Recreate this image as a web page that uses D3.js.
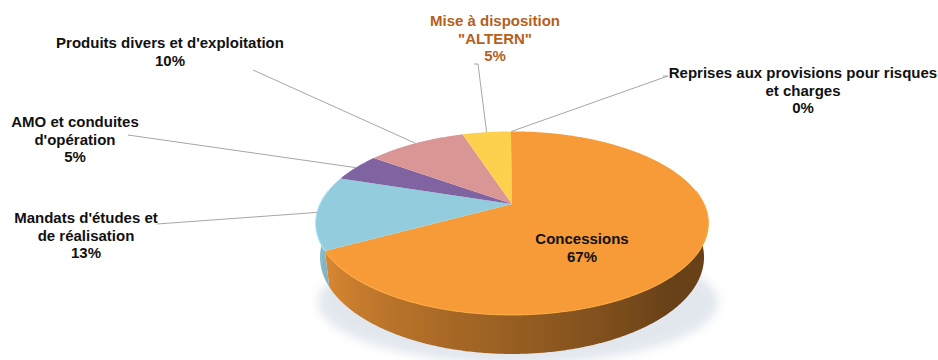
<!DOCTYPE html>
<html>
<head>
<meta charset="utf-8">
<script src="https://cdn.jsdelivr.net/npm/d3@7"></script>
<style>
  body { margin: 0; background: #fff; }
  text { font-family: "Liberation Sans", Arial, sans-serif; font-weight: bold; font-size: 15px; }
</style>
</head>
<body>
<div id="chart"></div>
<script>
// data
const categories = ["Concessions", "Mandats d'études et de réalisation", "AMO et conduites d'opération",
  "Produits divers et d'exploitation", "Mise à disposition \"ALTERN\"", "Reprises aux provisions pour risques et charges"];
const values = [67, 13, 5, 10, 4.9, 0.1];
const percentLabels = ["67%", "13%", "5%", "10%", "5%", "0%"];
const labelLines = [
  ["Concessions"],
  ["Mandats d'études et", "de réalisation"],
  ["AMO et conduites", "d'opération"],
  ["Produits divers et d'exploitation"],
  ["Mise à disposition", "\"ALTERN\""],
  ["Reprises aux provisions pour risques", "et charges"]
];
const colors = ["#f79a38", "#93cddd", "#8064a2", "#d99694", "#fdd04e", "#a5a5a5"];

// layout of the labels (centre x, first baseline y) and leader starts
const labelPos = [
  {x: 582, y: 244, color: "#111"},
  {x: 86, y: 223, color: "#111", lead: [[157, 224]]},
  {x: 75, y: 127, color: "#111", lead: [[128, 135]]},
  {x: 170, y: 48, color: "#111", lead: [[253, 70]]},
  {x: 495, y: 26, color: "#b5601d", lead: [[474, 64], [478, 64]]},
  {x: 803, y: 78, color: "#111", lead: [[663, 76], [668, 76]]}
];

var width = 938, height = 360;
var cx = 512, cy = 204, S = 192;
var sinT = 0.457, cosT = 0.889, D = 4.26, H = 0.2;

// perspective projection of a point on the tilted disc
function proj(theta, r, y) {
  var X = r * Math.sin(theta), Z = r * Math.cos(theta);
  var v = Z * sinT + y * cosT;
  var w = Z * cosT - y * sinT;
  var f = 1 / (1 + w / D);
  return [cx + S * X * f, cy - S * v * f, w];
}

// side is lit from the left
function shade(deg) {
  return Math.max(0.42, Math.min(0.92, 0.42 + 0.0043 * (deg - 135)));
}

var svg = d3.select("#chart").append("svg")
  .attr("width", width).attr("height", height);

var defs = svg.append("defs");
defs.append("filter").attr("id", "blur").attr("x", "-20%").attr("y", "-50%")
  .attr("width", "140%").attr("height", "200%")
  .append("feGaussianBlur").attr("stdDeviation", 5);

// side gradients, one per colour
var x1 = proj(Math.PI * 1.5, 1, 0)[0], x2 = proj(Math.PI * 0.5, 1, 0)[0];
colors.forEach(function(c, i) {
  var g = defs.append("linearGradient").attr("id", "side" + i)
    .attr("gradientUnits", "userSpaceOnUse")
    .attr("x1", x1).attr("x2", x2).attr("y1", 0).attr("y2", 0);
  var base = d3.rgb(c);
  for (var deg = 270; deg >= 90; deg -= 5) {
    var x = proj(deg * Math.PI / 180, 1, -H / 2)[0];
    var s = shade(deg);
    g.append("stop")
      .attr("offset", Math.max(0, Math.min(1, (x - x1) / (x2 - x1))))
      .attr("stop-color", d3.rgb(base.r * s, base.g * s, base.b * s).formatHex());
  }
});

// soft shadow under the pie
svg.append("ellipse")
  .attr("cx", cx + 6).attr("cy", 302).attr("rx", 200).attr("ry", 62)
  .attr("fill", "#b9c5d6").attr("opacity", 0.4).attr("filter", "url(#blur)");

var pie = d3.pie().sort(null).value(d => d)(values);
var step = Math.PI / 360;

function arcPts(a, b, y) {
  var n = Math.max(2, Math.ceil((b - a) / step)), out = [];
  for (var k = 0; k <= n; k++) out.push(proj(a + (b - a) * k / n, 1, y));
  return out;
}

// side walls: only the front half can be seen
var lo = Math.PI * 0.45, hi = Math.PI * 1.55;
var sides = pie.map(function(p) {
  var a = Math.max(p.startAngle, lo), b = Math.min(p.endAngle, hi);
  return {index: p.index, a: a, b: b};
}).filter(d => d.b > d.a);

svg.append("g").selectAll("path.side")
  .data(sides).enter().append("path")
  .attr("class", "side")
  .attr("d", function(d) {
    var pts = arcPts(d.a, d.b, 0).concat(arcPts(d.a, d.b, -H).reverse());
    return "M" + pts.map(p => p[0] + "," + p[1]).join("L") + "Z";
  })
  .attr("fill", d => "url(#side" + d.index + ")");

// top faces
function topPath(p) {
  var c = proj(0, 0, 0);
  return "M" + c[0] + "," + c[1] + "L" +
    arcPts(p.startAngle, p.endAngle, 0).map(q => q[0] + "," + q[1]).join("L") + "Z";
}

svg.append("g").selectAll("path.top")
  .data(pie).enter().append("path")
  .attr("class", "top")
  .attr("d", topPath)
  .attr("fill", (d, i) => colors[i]);

// light bevel along the front rim
svg.append("g").selectAll("path.rim")
  .data(sides).enter().append("path")
  .attr("d", d => "M" + arcPts(d.a, d.b, 0).map(p => p[0] + "," + p[1]).join("L"))
  .attr("fill", "none")
  .attr("stroke", d => d3.rgb(colors[d.index]).brighter(0.35))
  .attr("stroke-width", 1.2).attr("opacity", 0.8);

// leader lines
svg.append("g").selectAll("path.lead")
  .data(pie.filter((d, i) => labelPos[i].lead))
  .enter().append("path")
  .attr("d", function(d) {
    var lp = labelPos[d.index].lead;
    var end = proj((d.startAngle + d.endAngle) / 2, 1, 0);
    return "M" + lp.map(p => p[0] + "," + p[1]).join("L") + "L" + end[0] + "," + end[1];
  })
  .attr("fill", "none").attr("stroke", "#a6a6a6").attr("stroke-width", 1);

// labels
var lab = svg.append("g").selectAll("text")
  .data(pie).enter().append("text")
  .attr("text-anchor", "middle")
  .attr("fill", d => labelPos[d.index].color);

lab.each(function(d) {
  var t = d3.select(this), pos = labelPos[d.index];
  var lines = labelLines[d.index].concat([percentLabels[d.index]]);
  lines.forEach(function(l, k) {
    t.append("tspan").attr("x", pos.x).attr("y", pos.y + k * 17.5).text(l);
  });
});
</script>
</body>
</html>
